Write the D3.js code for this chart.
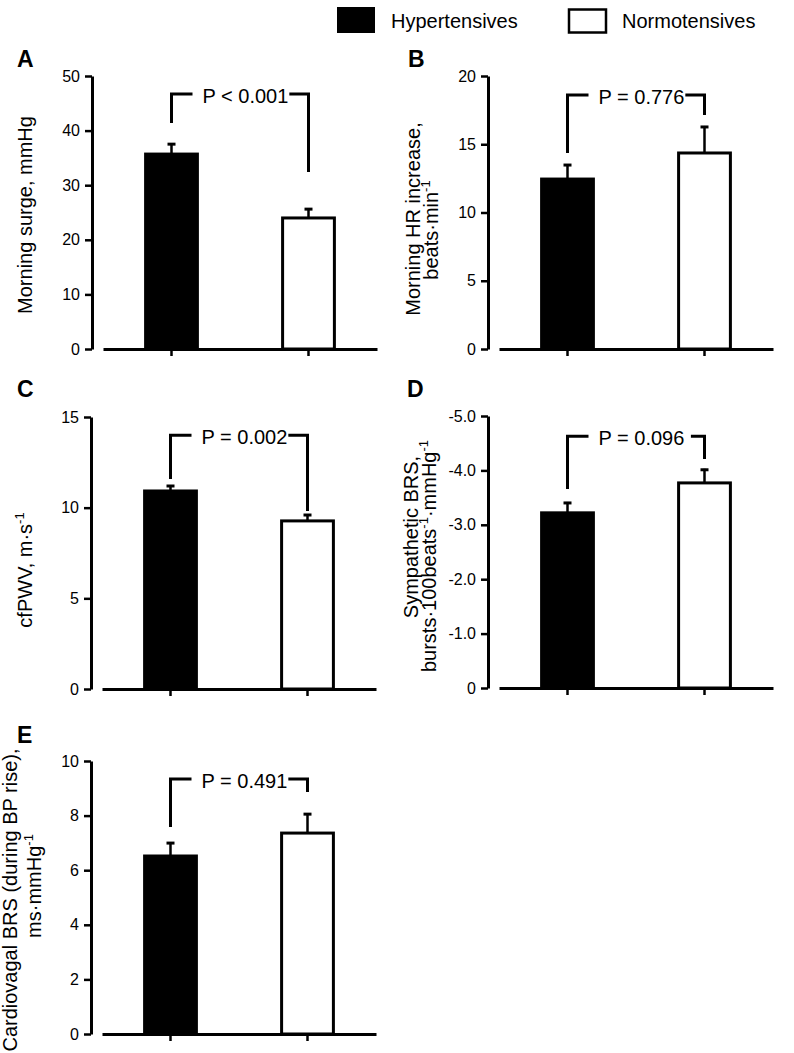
<!DOCTYPE html>
<html>
<head>
<meta charset="utf-8">
<script src="https://cdn.jsdelivr.net/npm/d3@7"></script>
<style>
  html, body { margin: 0; padding: 0; background: #fff; }
  svg { display: block; font-family: "Liberation Sans", Arial, Helvetica, sans-serif; }
</style>
</head>
<body>
<svg id="chart" width="794" height="1053"></svg>
<script>
// ---------- data ----------
const groups = ["Hypertensives", "Normotensives"];
const panelLetters = ["A", "B", "C", "D", "E"];
const hypMeans  = [35.7, 12.45, 10.92, -3.22, 6.52];
const normMeans = [24.0, 14.36, 9.27, -3.77, 7.36];
const hypErrTop  = [37.7, 13.55, 11.25, -3.42, 7.03];
const normErrTop = [25.8, 16.34, 9.65, -4.03, 8.09];
const yMaxes = [50, 20, 15, -5, 10];
const yTickValues = [
  [0, 10, 20, 30, 40, 50],
  [0, 5, 10, 15, 20],
  [0, 5, 10, 15],
  [0, -1, -2, -3, -4, -5],
  [0, 2, 4, 6, 8, 10]
];
const pLabels = ["P < 0.001", "P = 0.776", "P = 0.002", "P = 0.096 ", "P = 0.491"];
const bracketTops = [46.7, 18.6, 14.0, -4.63, 9.34];
const bracketLeftEnds = [41.4, 14.36, 11.58, -3.66, 7.58];
const bracketRightEnds = [32.4, 17.14, 9.82, -4.21, 8.86];
const yLabelLines = [
  ["Morning surge, mmHg"],
  ["Morning HR increase,", "beats·min^{-1}"],
  ["cfPWV, m·s^{-1}"],
  ["Sympathetic BRS,", "bursts·100beats^{-1}·mmHg^{-1}"],
  ["Cardiovagal BRS (during BP rise),", "ms·mmHg^{-1}"]
];

// ---------- layout ----------
const layout = [
  {ax: 92,  top: 76,  bottom: 349, letter: [17, 67],  labels: [[32, 215]]},
  {ax: 488, top: 76,  bottom: 349, letter: [408, 67], labels: [[420, 219], [438, 230]]},
  {ax: 91,  top: 417, bottom: 689, letter: [17, 397], labels: [[32, 570]]},
  {ax: 488, top: 416, bottom: 688, letter: [407, 397], labels: [[418, 537], [436, 556]]},
  {ax: 91,  top: 761, bottom: 1034, letter: [17, 743], labels: [[17, 900], [41, 886]]}
];

const svg = d3.select("#chart");
const SW = 3;

function fmtTick(i) {
  return d => {
    if (i === 3) return d === 0 ? "0" : d3.format(".1f")(d).replace("−", "-");
    return String(d);
  };
}

function addRichText(sel, str) {
  const parts = str.split(/(\^\{[^}]*\})/).filter(s => s.length);
  let sup = false;
  parts.forEach(p => {
    const m = p.match(/^\^\{(.*)\}$/);
    if (m) {
      sel.append("tspan").attr("font-size", 13).attr("dy", -8).text(m[1]);
      sup = true;
    } else {
      const t = sel.append("tspan").text(p);
      if (sup) { t.attr("dy", 8); sup = false; }
    }
  });
}

panelLetters.forEach((letter, i) => {
  const L = layout[i];
  const g = svg.append("g");
  const y = d3.scaleLinear().domain([0, yMaxes[i]]).range([L.bottom, L.top]);
  const x = d3.scaleBand().domain(groups)
    .range([L.ax + 11, L.ax + 285])
    .paddingInner(0.6).paddingOuter(0.3);

  // y axis
  const yAxis = g.append("g").attr("transform", `translate(${L.ax},0)`)
    .call(d3.axisLeft(y).tickValues(yTickValues[i]).tickFormat(fmtTick(i))
      .tickSize(7).tickSizeOuter(0).tickPadding(5));
  yAxis.select(".domain").attr("stroke-width", SW);
  yAxis.selectAll(".tick line").attr("stroke-width", 2.5);
  yAxis.selectAll(".tick text").attr("font-size", 16).attr("font-family", "Liberation Sans, Arial, sans-serif").attr("fill", "#000");

  // x axis
  const xAxis = g.append("g").attr("transform", `translate(0,${L.bottom})`)
    .call(d3.axisBottom(x).tickSize(7).tickSizeOuter(0).tickFormat(""));
  xAxis.select(".domain").attr("stroke-width", SW);
  xAxis.selectAll(".tick line").attr("stroke-width", 2.5);

  const means = [hypMeans[i], normMeans[i]];
  const errs = [hypErrTop[i], normErrTop[i]];

  // error bars (upward only)
  groups.forEach((grp, k) => {
    const cx = x(grp) + x.bandwidth() / 2;
    g.append("line").attr("x1", cx).attr("x2", cx)
      .attr("y1", y(means[k])).attr("y2", y(errs[k]))
      .attr("stroke", "#000").attr("stroke-width", 2.5);
    g.append("line").attr("x1", cx - 4).attr("x2", cx + 4)
      .attr("y1", y(errs[k]) + 1).attr("y2", y(errs[k]) + 1)
      .attr("stroke", "#000").attr("stroke-width", 3);
  });

  // bars
  groups.forEach((grp, k) => {
    g.append("rect")
      .attr("x", x(grp) + SW / 2)
      .attr("width", x.bandwidth() - SW)
      .attr("y", y(means[k]))
      .attr("height", y(0) - y(means[k]))
      .attr("fill", k === 0 ? "#000" : "#fff")
      .attr("stroke", "#000").attr("stroke-width", SW);
  });

  // significance bracket
  const lx = x(groups[0]) + x.bandwidth() / 2;
  const rx = x(groups[1]) + x.bandwidth() / 2;
  const ty = y(bracketTops[i]);
  const pt = g.append("text").attr("x", lx + 31).attr("y", ty + 8.5)
    .attr("font-size", 20).attr("fill", "#000")
    .style("white-space", "pre").text(pLabels[i]);
  const tEnd = lx + 31 + pt.node().getComputedTextLength();
  g.append("path")
    .attr("d", `M${lx},${y(bracketLeftEnds[i])}V${ty}H${lx + 21}`)
    .attr("fill", "none").attr("stroke", "#000").attr("stroke-width", SW);
  g.append("path")
    .attr("d", `M${tEnd + 1},${ty}H${rx}V${y(bracketRightEnds[i])}`)
    .attr("fill", "none").attr("stroke", "#000").attr("stroke-width", SW);

  // panel letter
  svg.append("text").attr("x", L.letter[0]).attr("y", L.letter[1])
    .attr("font-size", 23).attr("font-weight", "bold").text(letter);

  // y label
  yLabelLines[i].forEach((line, j) => {
    const [bx, cy] = L.labels[j];
    const t = svg.append("text")
      .attr("transform", `translate(${bx},${cy}) rotate(-90)`)
      .attr("text-anchor", "middle").attr("font-size", 20).attr("fill", "#000");
    addRichText(t, line);
  });
});

// legend
svg.append("rect").attr("x", 337).attr("y", 7).attr("width", 38).attr("height", 26).attr("fill", "#000");
svg.append("text").attr("x", 391).attr("y", 28).attr("font-size", 20).text(groups[0]);
svg.append("rect").attr("x", 569).attr("y", 9.5).attr("width", 37).attr("height", 23)
  .attr("fill", "#fff").attr("stroke", "#000").attr("stroke-width", 2.5);
svg.append("text").attr("x", 622).attr("y", 28).attr("font-size", 20).text(groups[1]);
</script>
</body>
</html>
